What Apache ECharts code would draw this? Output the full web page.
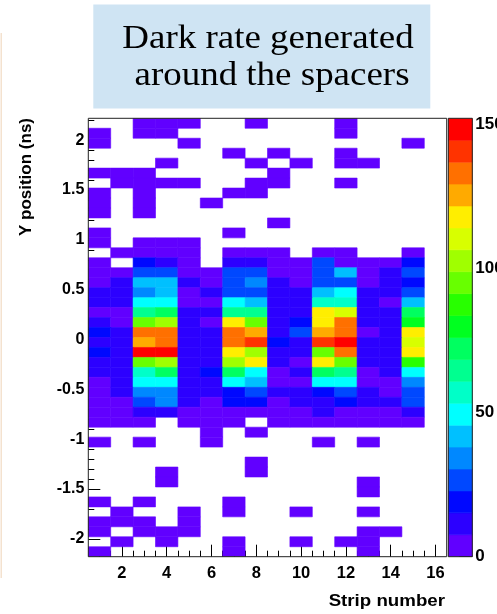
<!DOCTYPE html>
<html><head><meta charset="utf-8">
<script src="https://cdn.jsdelivr.net/npm/echarts@6/dist/echarts.min.js"></script>
<style>html,body{margin:0;padding:0;background:#fff;overflow:hidden}#c{width:497px;height:614px}</style>
</head><body><div id="c"></div>
<script>
// ---- data ----
const strips = [1,2,3,4,5,6,7,8,9,10,11,12,13,14,15,16];
const yBinCenters = [2.17,2.07,1.97,1.87,1.77,1.67,1.57,1.47,1.37,1.27,1.17,1.07,0.97,0.87,0.77,0.67,0.57,0.47,0.37,0.27,0.17,0.07,-0.03,-0.13,-0.23,-0.33,-0.43,-0.53,-0.63,-0.73,-0.83,-0.93,-1.03,-1.13,-1.23,-1.33,-1.43,-1.53,-1.63,-1.73,-1.83,-1.93,-2.03,-2.13];
// counts[row][strip], rows from top (y=2.17) to bottom (y=-2.13)
const counts = [
 [0,0,2,2,2,0,0,2,0,0,0,2,0,0,0,0],
 [2,0,2,2,0,0,0,0,0,0,0,2,0,0,0,0],
 [2,0,0,0,2,0,0,0,0,0,0,0,0,0,2,0],
 [0,0,0,0,0,0,2,0,2,0,0,2,0,0,0,0],
 [0,0,0,2,0,0,0,2,0,2,0,2,2,0,0,0],
 [2,2,2,0,0,0,0,0,2,0,0,0,0,0,0,0],
 [0,2,2,2,2,0,0,2,2,0,0,2,0,0,0,0],
 [2,0,2,0,0,0,2,2,0,0,0,0,0,0,0,0],
 [2,0,2,0,0,2,0,0,0,0,0,0,0,0,0,0],
 [2,0,2,0,0,0,0,0,0,0,0,0,0,0,0,0],
 [0,0,0,0,0,0,0,0,2,0,0,0,0,0,0,0],
 [2,0,0,0,0,0,2,0,0,0,0,0,0,0,0,0],
 [2,0,2,2,2,0,0,0,0,0,0,0,0,0,0,0],
 [0,2,2,2,2,0,2,2,2,0,2,2,0,0,2,0],
 [3,0,19,11,4,0,11,11,4,4,26,4,4,4,19,0],
 [4,4,26,26,4,4,26,26,4,4,26,42,4,11,26,0],
 [4,11,42,42,11,4,26,34,11,4,26,26,4,11,19,0],
 [11,11,34,42,4,11,26,26,11,11,42,49,11,11,26,0],
 [11,11,49,49,4,4,49,42,11,11,57,57,11,4,42,0],
 [4,4,64,72,11,11,64,64,11,11,117,110,11,11,72,0],
 [11,4,94,102,11,4,117,94,11,19,117,132,11,11,79,0],
 [19,11,132,132,11,11,132,125,11,26,125,132,4,11,117,0],
 [11,11,125,132,11,11,132,140,19,11,140,148,11,11,110,0],
 [19,11,151,148,11,11,117,102,11,11,94,132,11,11,117,0],
 [11,11,94,102,11,11,102,117,11,4,117,94,11,11,87,0],
 [11,11,57,72,11,19,72,49,4,11,72,64,4,11,49,0],
 [4,11,49,49,11,11,49,42,4,4,49,49,4,4,34,0],
 [4,11,34,34,11,11,19,26,11,11,19,26,11,4,26,0],
 [4,4,26,34,11,4,19,19,4,11,11,19,11,11,26,0],
 [4,4,11,11,4,4,4,4,4,4,11,4,4,4,11,0],
 [3,3,3,0,3,3,3,0,3,3,3,3,3,3,3,0],
 [0,0,0,0,0,2,0,2,0,0,0,0,0,0,0,0],
 [2,0,2,0,0,2,0,0,0,0,2,0,2,0,0,0],
 [0,0,0,0,0,0,0,0,0,0,0,0,0,0,0,0],
 [0,0,0,0,0,0,0,2,0,0,0,0,0,0,0,0],
 [0,0,0,2,0,0,0,2,0,0,0,0,0,0,0,0],
 [0,0,0,2,0,0,0,0,0,0,0,0,2,0,0,0],
 [0,0,0,0,0,0,0,0,0,0,0,0,2,0,0,0],
 [2,0,2,0,0,0,2,0,0,0,0,0,0,0,0,0],
 [0,2,0,0,2,0,2,0,0,2,0,0,2,0,0,0],
 [2,2,2,0,2,0,0,0,0,0,0,0,0,0,0,0],
 [2,0,2,2,2,0,0,0,0,0,0,0,2,2,0,0],
 [0,2,0,2,0,0,2,0,0,2,0,2,2,0,0,0],
 [2,0,0,0,0,0,2,0,0,0,0,0,2,0,0,0]
];
const zMax = 152;
const paletteColors = ['#6100ff','#2c00ff','#0008ff','#0048ff','#0088ff','#00c0ff','#00ffff','#00ffc8','#00ff90','#00ff60','#00ff20','#28ff00','#68ff00','#a0ff00','#d8ff00','#ffee00','#ffaa00','#ff7000','#ff3300','#ff0000'];
const xMajorTicks = [2,4,6,8,10,12,14,16];
const xMinorTicks = [1,1.5,2.5,3,3.5,4.5,5,5.5,6.5,7,7.5,8.5,9,9.5,10.5,11,11.5,12.5,13,13.5,14.5,15,15.5,16];
const yMajorTicks = [-2,-1.5,-1,-0.5,0,0.5,1,1.5,2];
const yMinorTicks = [-2.1,-1.9,-1.8,-1.7,-1.6,-1.4,-1.3,-1.2,-1.1,-0.9,-0.8,-0.7,-0.6,-0.4,-0.3,-0.2,-0.1,0.1,0.2,0.3,0.4,0.6,0.7,0.8,0.9,1.1,1.2,1.3,1.4,1.6,1.7,1.8,1.9,2.1,2.2];
const zTicks = [0,50,100,150];
const xTitle = 'Strip number';
const yTitle = 'Y position (ns)';
const titleLines = ['Dark rate generated', 'around the spacers'];

// ---- build ----
const cellData = [];
counts.forEach((row, r) => row.forEach((v, c) => { if (v > 0) cellData.push([strips[c], yBinCenters[r], v]); }));
const nBands = paletteColors.length;
const bandW = zMax / nBands;
const pieces = paletteColors.map((col, i) => ({ gte: i * bandW, lt: (i + 1) * bandW, color: col }));
pieces[nBands - 1].lte = zMax; delete pieces[nBands - 1].lt;
const bandData = paletteColors.map((col, i) => [i * bandW, (i + 1) * bandW, i]);

const lab = { fontFamily: 'Liberation Sans', fontWeight: 'bold', color: '#000' };
const G = { left: 88.3, top: 118.3, w: 358.4, h: 438.4 };
const noLine = { show: false, onZero: false };

const chart = echarts.init(document.getElementById('c'), null, { renderer: 'canvas' });
chart.setOption({
  animation: false,
  backgroundColor: '#fff',
  grid: [
    { left: G.left, top: G.top, width: G.w, height: G.h, show: true, borderColor: '#222', borderWidth: 1, backgroundColor: 'transparent', z: 5, containLabel: false, outerBoundsMode: 'none' },
    { left: 448.3, top: G.top, width: 24, height: G.h, show: true, borderColor: '#222', borderWidth: 1, backgroundColor: 'transparent', z: 5, containLabel: false, outerBoundsMode: 'none' }
  ],
  xAxis: [
    { gridIndex: 0, type: 'value', min: 0.5, max: 16.5, position: 'bottom', axisLine: noLine, splitLine: { show: false },
      axisTick: { inside: true, length: 12, customValues: xMajorTicks, lineStyle: { color: '#000', width: 1 } },
      axisLabel: { customValues: xMajorTicks, margin: 8, fontSize: 16.5, ...lab } },
    { gridIndex: 0, type: 'value', min: 0.5, max: 16.5, position: 'bottom', axisLine: noLine, splitLine: { show: false },
      axisTick: { inside: true, length: 6, customValues: xMinorTicks, lineStyle: { color: '#000', width: 1 } },
      axisLabel: { show: false } },
    { gridIndex: 1, type: 'value', min: 0, max: 1, show: false, axisLine: noLine }
  ],
  yAxis: [
    { gridIndex: 0, type: 'value', min: -2.18, max: 2.22, position: 'left', axisLine: noLine, splitLine: { show: false },
      axisTick: { inside: true, length: 12, customValues: yMajorTicks, lineStyle: { color: '#000', width: 1 } },
      axisLabel: { customValues: yMajorTicks, margin: 4, fontSize: 16, ...lab } },
    { gridIndex: 0, type: 'value', min: -2.18, max: 2.22, position: 'left', axisLine: noLine, splitLine: { show: false },
      axisTick: { inside: true, length: 6, customValues: yMinorTicks, lineStyle: { color: '#000', width: 1 } },
      axisLabel: { show: false } },
    { gridIndex: 1, type: 'value', min: 0, max: zMax, position: 'right', axisLine: noLine, splitLine: { show: false },
      axisTick: { inside: true, length: 13, customValues: zTicks, lineStyle: { color: '#000', width: 1 } },
      axisLabel: { customValues: zTicks, margin: 3, align: 'left', fontSize: 17, ...lab } }
  ],
  visualMap: { show: false, type: 'piecewise', seriesIndex: 0, dimension: 2, pieces: pieces },
  series: [
    { type: 'custom', xAxisIndex: 0, yAxisIndex: 0, data: cellData, clip: true,
      renderItem: (params, api) => {
        const x = api.value(0), y = api.value(1);
        const p0 = api.coord([x - 0.5, y + 0.05]);
        const p1 = api.coord([x + 0.5, y - 0.05]);
        const col = api.visual('color');
        return { type: 'rect', shape: { x: p0[0], y: p0[1], width: p1[0] - p0[0], height: p1[1] - p0[1] },
          style: { fill: col, stroke: col, lineWidth: 0.6 } };
      } },
    { type: 'custom', xAxisIndex: 2, yAxisIndex: 2, data: bandData, clip: true,
      renderItem: (params, api) => {
        const lo = api.value(0), hi = api.value(1), i = api.value(2);
        const p0 = api.coord([0, hi]);
        const p1 = api.coord([1, lo]);
        return { type: 'rect', shape: { x: p0[0], y: p0[1], width: p1[0] - p0[0], height: p1[1] - p0[1] },
          style: { fill: paletteColors[i], stroke: paletteColors[i], lineWidth: 0.6 } };
      } }
  ],
  graphic: [
    { type: 'rect', shape: { x: 0.5, y: 33, width: 1.5, height: 545 }, style: { fill: '#f4e2cf' }, silent: true },
    { type: 'rect', shape: { x: 93.3, y: 4.5, width: 337, height: 104 }, style: { fill: '#cfe4f3' }, silent: true },
    { type: 'text', x: 268, y: 39, scaleX: 1.12, style: { text: titleLines[0], font: '33px "Liberation Serif"', fill: '#000', align: 'center', verticalAlign: 'middle' } },
    { type: 'text', x: 272, y: 76, scaleX: 1.12, style: { text: titleLines[1], font: '33px "Liberation Serif"', fill: '#000', align: 'center', verticalAlign: 'middle' } },
    { type: 'text', x: 445, y: 601, scaleX: 1.1, style: { text: xTitle, font: 'bold 17px "Liberation Sans"', fill: '#000', align: 'right', verticalAlign: 'middle' } },
    { type: 'text', x: 26, y: 118, rotation: Math.PI / 2, style: { text: yTitle, font: 'bold 17px "Liberation Sans"', fill: '#000', align: 'right', verticalAlign: 'middle' } }
  ]
});
</script></body></html>
